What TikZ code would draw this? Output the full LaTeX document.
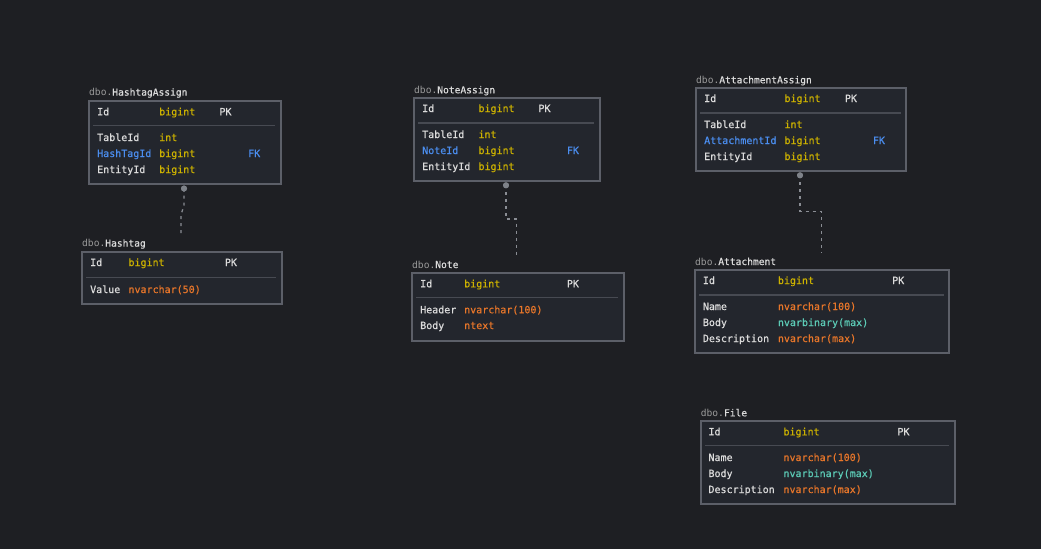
\documentclass[tikz,border=0pt]{standalone}
\usepackage{fontspec}
\newfontfamily\dmono[BoldFont={DejaVu Sans Mono}, BoldFeatures={FakeBold=0.5}]{DejaVu Sans Mono}
\definecolor{bgc}{HTML}{1E1F23}
\definecolor{boxc}{HTML}{23262D}
\definecolor{bordc}{HTML}{5C5F68}
\definecolor{sepc}{HTML}{474A52}
\definecolor{txtc}{HTML}{DCDCDC}
\definecolor{yelc}{HTML}{CDB200}
\definecolor{orc}{HTML}{E8762A}
\definecolor{tealc}{HTML}{5CCBB6}
\definecolor{bluc}{HTML}{4B8EF0}
\definecolor{greyc}{HTML}{9A9A9A}
\definecolor{connc}{HTML}{8A8D94}
\tikzset{
  tbox/.style={draw=bordc, fill=boxc, line width=2pt, rectangle, inner sep=0pt, anchor=north west},
  sepline/.style={draw=sepc, line width=1.5pt},
  cell/.style={anchor=base west, inner sep=0pt, font=\dmono\bfseries\fontsize{10}{12}\selectfont},
  nm/.style={cell, text=txtc},
  ty/.style={cell, text=yelc},
  tyo/.style={cell, text=orc},
  tyt/.style={cell, text=tealc},
  fk/.style={cell, text=bluc},
  ttl/.style={anchor=base west, inner sep=0pt, font=\dmono\fontsize{9.6}{12}\selectfont, text=txtc},
  conn/.style={draw=connc, line width=1.3pt, dash pattern=on 3pt off 4pt},
  dotc/.style={circle, fill=connc!110, inner sep=0pt, minimum size=6pt}
}
\begin{document}
\begin{tikzpicture}[x=1pt,y=-1pt]
\useasboundingbox[fill=bgc] (0,0) rectangle (1041,549);

% ---------- HashtagAssign ----------
\node[ttl] (t1) at (89,95.6) {\textcolor{greyc}{dbo.}\bfseries HashtagAssign};
\node[tbox, minimum width=192pt, minimum height=83pt] (ha) at (88,100) {};
\draw[sepline] (93,125.7) -- (275,125.7);
\node[nm] (ha1) at (97,115.3) {Id};
\node[ty] (ha1t) at (159,115.3) {bigint};
\node[nm] (ha1k) at (219.3,115.3) {PK};
\node[nm] (ha2) at (97,141) {TableId};
\node[ty] (ha2t) at (159,141) {int};
\node[fk] (ha3) at (97,157) {HashTagId};
\node[ty] (ha3t) at (159,157) {bigint};
\node[fk] (ha3k) at (248,157) {FK};
\node[nm] (ha4) at (97,173) {EntityId};
\node[ty] (ha4t) at (159,173) {bigint};

% ---------- Hashtag ----------
\node[ttl] (t2) at (82,246.6) {\textcolor{greyc}{dbo.}\bfseries Hashtag};
\node[tbox, minimum width=200pt, minimum height=52pt] (hg) at (81,251) {};
\draw[sepline] (86,277.7) -- (276,277.7);
\node[nm] (hg1) at (90,266) {Id};
\node[ty] (hg1t) at (128.3,266) {bigint};
\node[nm] (hg1k) at (224.7,266) {PK};
\node[nm] (hg2) at (90,293) {Value};
\node[tyo] (hg2t) at (128.3,293) {nvarchar(50)};

% connector HashtagAssign -> Hashtag
\node[dotc] (d1) at (184,188.5) {};
\coordinate (e1) at (181,234);
\draw[conn] (d1.center) -- (184,205) -- (181,215) -- (e1);
\node[dotc] at (d1) {};

% ---------- NoteAssign ----------
\node[ttl] (t3) at (414,93.3) {\textcolor{greyc}{dbo.}\bfseries NoteAssign};
\node[tbox, minimum width=186pt, minimum height=83pt] (na) at (413,97) {};
\draw[sepline] (418,123) -- (594,123);
\node[nm] (na1) at (422,112) {Id};
\node[ty] (na1t) at (478.3,112) {bigint};
\node[nm] (na1k) at (538.3,112) {PK};
\node[nm] (na2) at (422,138) {TableId};
\node[ty] (na2t) at (478.3,138) {int};
\node[fk] (na3) at (422,154) {NoteId};
\node[ty] (na3t) at (478.3,154) {bigint};
\node[fk] (na3k) at (566.7,154) {FK};
\node[nm] (na4) at (422,170) {EntityId};
\node[ty] (na4t) at (478.3,170) {bigint};

% ---------- Note ----------
\node[ttl] (t4) at (412,268) {\textcolor{greyc}{dbo.}\bfseries Note};
\node[tbox, minimum width=212pt, minimum height=68pt] (nt) at (411,272) {};
\draw[sepline] (416,297.7) -- (618.3,297.7);
\node[nm] (nt1) at (420,287.3) {Id};
\node[ty] (nt1t) at (464,287.3) {bigint};
\node[nm] (nt1k) at (566.7,287.3) {PK};
\node[nm] (nt2) at (420,313.3) {Header};
\node[tyo] (nt2t) at (464,313.3) {nvarchar(100)};
\node[nm] (nt3) at (420,329) {Body};
\node[tyo] (nt3t) at (464,329) {ntext};

% connector NoteAssign -> Note
\node[dotc] (d2) at (506,185.3) {};
\coordinate (e2) at (516.7,255.7);
\draw[conn] (d2.center) -- (506,219) -- (516.7,219) -- (e2);
\node[dotc] at (d2) {};

% ---------- AttachmentAssign ----------
\node[ttl] (t5) at (696,83.3) {\textcolor{greyc}{dbo.}\bfseries AttachmentAssign};
\node[tbox, minimum width=210pt, minimum height=83pt] (aa) at (695,87) {};
\draw[sepline] (700,113) -- (900.7,113);
\node[nm] (aa1) at (704,102) {Id};
\node[ty] (aa1t) at (784.3,102) {bigint};
\node[nm] (aa1k) at (844.7,102) {PK};
\node[nm] (aa2) at (704,128) {TableId};
\node[ty] (aa2t) at (784.3,128) {int};
\node[fk] (aa3) at (704,144) {AttachmentId};
\node[ty] (aa3t) at (784.3,144) {bigint};
\node[fk] (aa3k) at (872.7,144) {FK};
\node[nm] (aa4) at (704,160) {EntityId};
\node[ty] (aa4t) at (784.3,160) {bigint};

% ---------- Attachment ----------
\node[ttl] (t6) at (695,265) {\textcolor{greyc}{dbo.}\bfseries Attachment};
\node[tbox, minimum width=254pt, minimum height=83pt] (at) at (694,269) {};
\draw[sepline] (699,295) -- (944,295);
\node[nm] (at1) at (702.7,284) {Id};
\node[ty] (at1t) at (777.7,284) {bigint};
\node[nm] (at1k) at (892,284) {PK};
\node[nm] (at2) at (702.7,310) {Name};
\node[tyo] (at2t) at (777.7,310) {nvarchar(100)};
\node[nm] (at3) at (702.7,326) {Body};
\node[tyt] (at3t) at (777.7,326) {nvarbinary(max)};
\node[nm] (at4) at (702.7,342) {Description};
\node[tyo] (at4t) at (777.7,342) {nvarchar(max)};

% connector AttachmentAssign -> Attachment
\node[dotc] (d3) at (800,175.3) {};
\coordinate (e3) at (821.3,252.3);
\draw[conn] (d3.center) -- (800,211.7) -- (821.3,211.7) -- (e3);
\node[dotc] at (d3) {};

% ---------- File ----------
\node[ttl] (t7) at (700.7,416.3) {\textcolor{greyc}{dbo.}\bfseries File};
\node[tbox, minimum width=254pt, minimum height=83pt] (fl) at (700,420) {};
\draw[sepline] (705,445.7) -- (949.3,445.7);
\node[nm] (fl1) at (708.3,435.3) {Id};
\node[ty] (fl1t) at (783.3,435.3) {bigint};
\node[nm] (fl1k) at (897.3,435.3) {PK};
\node[nm] (fl2) at (708.3,461) {Name};
\node[tyo] (fl2t) at (783.3,461) {nvarchar(100)};
\node[nm] (fl3) at (708.3,477) {Body};
\node[tyt] (fl3t) at (783.3,477) {nvarbinary(max)};
\node[nm] (fl4) at (708.3,493) {Description};
\node[tyo] (fl4t) at (783.3,493) {nvarchar(max)};
\end{tikzpicture}
\end{document}
